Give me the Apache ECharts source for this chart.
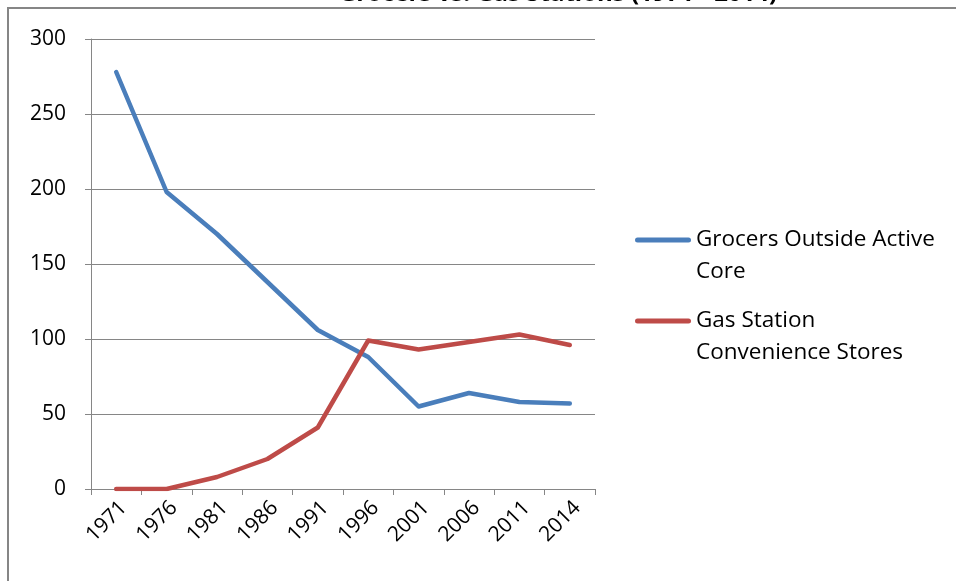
<!DOCTYPE html>
<html>
<head>
<meta charset="utf-8">
<title>Grocers and Gas Station Convenience Stores</title>
<script src="https://cdn.jsdelivr.net/npm/echarts@6/dist/echarts.min.js"></script>
<style>
  html, body { margin: 0; padding: 0; background: #ffffff; }
  #chart { width: 956px; height: 581px; }
</style>
</head>
<body>
<div id="chart"></div>
<script>
// Category labels (years) along the x axis
const years = ['1971', '1976', '1981', '1986', '1991', '1996', '2001', '2006', '2011', '2014'];

// Number of grocers outside the active core
const grocers = [278, 198, 170, 138, 106, 88, 55, 64, 58, 57];

// Number of gas station convenience stores
const gasStations = [0, 0, 8, 20, 41, 99, 93, 98, 103, 96];

// Series names and their wrapped legend labels
const seriesNames = ['Grocers Outside Active Core', 'Gas Station Convenience Stores'];
// A blank first line keeps the first text line level with the legend line
const legendLabels = [' \nGrocers Outside Active\nCore', ' \nGas Station\nConvenience Stores'];

const titleText = 'Grocers vs. Gas Stations (1971 - 2014)';

const FONT = 'Open Sans';
const GRID_COLOR = '#868686';
// Capsule-shaped legend line with round ends
const LEGEND_ICON = 'path://M2.5,0 L53.5,0 A2.5,2.5 0 0 1 53.5,5 L2.5,5 A2.5,2.5 0 0 1 2.5,0 Z';

const chart = echarts.init(document.getElementById('chart'), null, { renderer: 'canvas' });

function legendFor(i, top) {
  return {
    data: [seriesNames[i]],
    left: 635,
    top: top,
    padding: 0,
    icon: LEGEND_ICON,
    itemWidth: 56,
    itemHeight: 5,
    itemGap: 0,
    selectedMode: false,
    formatter: function (name) { return legendLabels[seriesNames.indexOf(name)]; },
    textStyle: {
      fontFamily: FONT,
      fontSize: 22.5,
      color: '#000000',
      lineHeight: 32
    }
  };
}

chart.setOption({
  animation: false,
  backgroundColor: '#ffffff',
  graphic: [
    {
      type: 'rect',
      shape: { x: 8, y: 8, width: 1200, height: 800 },
      style: { fill: 'none', stroke: GRID_COLOR, lineWidth: 2 },
      silent: true,
      z: -1
    },
    {
      type: 'text',
      x: 558,
      y: 6,
      style: {
        text: titleText,
        fontFamily: FONT,
        fontWeight: 'bold',
        fontSize: 24,
        fill: '#000000',
        align: 'center',
        verticalAlign: 'bottom'
      },
      silent: true
    }
  ],
  grid: { left: 91, right: 361, top: 39, bottom: 92, containLabel: false },
  legend: [legendFor(0, 192), legendFor(1, 273)],
  xAxis: {
    type: 'category',
    data: years,
    boundaryGap: true,
    axisLine: { show: true, lineStyle: { color: GRID_COLOR, width: 1 } },
    axisTick: { show: true, length: 6, lineStyle: { color: GRID_COLOR } },
    axisLabel: {
      rotate: 45,
      interval: 0,
      margin: 8,
      verticalAlign: 'top',
      fontFamily: FONT,
      fontSize: 21,
      color: '#000000'
    },
    splitLine: { show: false }
  },
  yAxis: {
    type: 'value',
    min: 0,
    max: 300,
    interval: 50,
    axisLine: { show: true, lineStyle: { color: GRID_COLOR, width: 1 } },
    axisTick: { show: true, length: 6, lineStyle: { color: GRID_COLOR } },
    axisLabel: {
      margin: 25,
      fontFamily: FONT,
      fontSize: 21,
      color: '#000000'
    },
    splitLine: { show: true, lineStyle: { color: GRID_COLOR, width: 1 } }
  },
  series: [
    {
      name: seriesNames[0],
      type: 'line',
      data: grocers,
      symbol: 'none',
      lineStyle: { color: '#4a7ebb', width: 4.5, cap: 'round', join: 'round' },
      itemStyle: { color: '#4a7ebb' }
    },
    {
      name: seriesNames[1],
      type: 'line',
      data: gasStations,
      symbol: 'none',
      lineStyle: { color: '#be4b48', width: 4.5, cap: 'round', join: 'round' },
      itemStyle: { color: '#be4b48' }
    }
  ]
});
</script>
</body>
</html>
